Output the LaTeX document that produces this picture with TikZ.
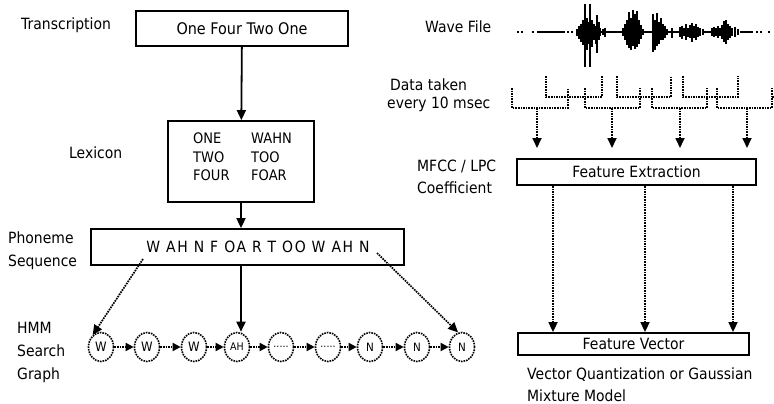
\documentclass[tikz,border=0pt]{standalone}
\usepackage{fontspec}
\setmainfont{DejaVu Sans}[FakeStretch=0.9]
\usetikzlibrary{arrows.meta,shapes.geometric}
\begin{document}
\begin{tikzpicture}[x=1pt,y=-1pt,
  lbl/.style={anchor=west,inner sep=0pt,font=\fontsize{15.5}{18}\selectfont},
  box/.style={draw,line width=1.8pt,inner sep=0pt,font=\fontsize{15.5}{18}\selectfont},
  lex/.style={anchor=west,inner sep=0pt,font=\fontsize{14.5}{16}\selectfont},
  solidarr/.style={line width=1.8pt,-{Triangle[length=10pt,width=9pt]}},
  dotarr/.style={line width=1.7pt,dash pattern=on 1.6pt off 1.0pt,-{Triangle[length=10pt,width=9pt]}},
  chainarr/.style={line width=1.7pt,dash pattern=on 1.6pt off 1.0pt,-{Triangle[length=8pt,width=8pt]}},
  dotline/.style={line width=1.7pt,dash pattern=on 1.6pt off 1.0pt},
  st/.style={draw,ellipse,line width=1.6pt,dash pattern=on 1.6pt off 1.0pt,minimum width=25pt,minimum height=29pt,inner sep=0pt,font=\fontsize{13}{14}\selectfont},
  wv/.style={line width=1.2pt}
]
\useasboundingbox (0,0) rectangle (774,404);

% ---------------- left column ----------------
\node[lbl] (ltr) at (21,25) {Transcription};
\node[box,minimum width=212pt,minimum height=35pt,font=\fontsize{16}{18}\selectfont] (tr) at (242,28.5) {One Four Two One};

\node[lbl] (llex) at (69,153) {Lexicon};
\node[box,minimum width=146pt,minimum height=81pt] (lx) at (241,161.5) {};
\node[lex] (l1a) at (193,138) {ONE};
\node[lex] (l1b) at (251,138) {WAHN};
\node[lex] (l2a) at (193,157) {TWO};
\node[lex] (l2b) at (251,157) {TOO};
\node[lex] (l3a) at (193,175.5) {FOUR};
\node[lex] (l3b) at (251,175.5) {FOAR};

\node[lbl] (lph1) at (8,238) {Phoneme};
\node[lbl] (lph2) at (8,262) {Sequence};
\node[box,minimum width=313pt,minimum height=36pt] (ph) at (247.5,247) {};
\node[inner sep=0pt,font=\fontsize{15.5}{18}\selectfont\addfontfeature{LetterSpace=10}] (pht) at (258,247) {W AH N F OA R T OO W AH N};

\node[lbl] (lh1) at (17,328) {HMM};
\node[lbl] (lh2) at (17,351) {Search};
\node[lbl] (lh3) at (17,375) {Graph};

\node[st] (c1) at (101,347) {W};
\node[st] (c2) at (147,347) {W};
\node[st] (c3) at (194,347) {W};
\node[st,font=\fontsize{10.5}{10}\selectfont] (c4) at (237,347) {AH};
\node[st,font=\fontsize{10.5}{10}\selectfont] (c5) at (281,347) {.....};
\node[st,font=\fontsize{10.5}{10}\selectfont] (c6) at (328,347) {.....};
\node[st,font=\fontsize{11.5}{10}\selectfont] (c7) at (370,347) {N};
\node[st,font=\fontsize{11.5}{10}\selectfont] (c8) at (417,347) {N};
\node[st,font=\fontsize{11.5}{10}\selectfont] (c9) at (462,347) {N};

\foreach \a/\b in {c1/c2,c2/c3,c3/c4,c4/c5,c5/c6,c6/c7,c7/c8,c8/c9}
  \draw[chainarr] (\a) -- (\b);

\draw[solidarr] (tr) -- (lx);
\draw[solidarr] (lx.south) -- (lx.south |- ph.north);
\coordinate (pv) at (241,0);
\draw[solidarr] (ph.south -| pv) -- (c4.north -| pv);

\coordinate (p1) at (143,259);
\coordinate (p2) at (377,253);
\draw[dotarr] (p1) -- (c1.125);
\draw[dotarr] (p2) -- (c9.105);

% ---------------- right column ----------------
\node[lbl] (lwave) at (425,27) {Wave File};
\node[lbl] (ld1) at (390,85) {Data taken};
\node[lbl] (ld2) at (387,104) {every 10 msec};
\node[lbl] (lm1) at (417,166) {MFCC / LPC};
\node[lbl] (lm2) at (417,188) {Coefficient};
\node[lbl] (lvq1) at (527,375) {Vector Quantization or Gaussian};
\node[lbl] (lvq2) at (527,396) {Mixture Model};

% waveform
\draw[line width=1.2pt] (537,32) -- (565,32) (600,32) -- (623,32) (642,32) -- (653,32)
  (667,32) -- (680,32) (703,32) -- (712,32) (740,32) -- (753,32);
\foreach \x in {518,521.5,533,568,572,757,761,769}
  \draw[line width=1.2pt] (\x-1,32) -- (\x+1,32);
\foreach \x/\a/\b in {
  577/29/36,579/26/39,581/24/42,583/20/45,587/18/50,589/22/44,592/20/47,594/24/40,596/26/44,597/15/53,599/22/40,600/28/36,
  603/29/35,605/28/37,
  623/28/36,625/24/40,627/20/45,629/12/48,631/18/50,633/10/46,635/14/49,637/11/47,639/20/44,641/25/39,643/29/35,
  653/14/52,655/20/50,657/13/46,659/22/44,661/18/40,663/24/40,665/26/38,667/29/35,672/28/38,
  680/27/37,682/26/39,684/28/36,686/24/40,688/28/37,690/25/38,692/23/42,694/26/38,696/24/40,698/27/37,700/28/36,703/29/35,
  712/28/36,714/27/37,716/28/36,718/26/38,720/28/36,722/25/39,724/21/42,726/20/44,728/24/40,730/26/38,732/28/36,735/27/37,738/29/35}
  \draw[wv] (\x,\a) -- (\x,\b);
\draw[line width=1.6pt] (585,4) -- (585,67) (590,4) -- (590,67);

% brackets
\foreach \l/\r in {512/568,585/640,652/707,717/772}
  \draw[dotline] (\l,88) -- (\l,108) -- (\r,108) -- (\r,88);
\foreach \l/\r in {546/602,617/671,683/738}
  \draw[dotline] (\l,76) -- (\l,97) -- (\r,97) -- (\r,76);
\draw[dotline] (772,97) -- (774,97);

\node[box,minimum width=239pt,minimum height=26pt] (fe) at (636.5,172) {Feature Extraction};
\node[box,minimum width=231pt,minimum height=22pt] (fv) at (633.5,344) {Feature Vector};

\foreach \i/\x in {1/537,2/612,3/680,4/747}{
  \coordinate (k\i) at (\x,108);
  \coordinate (e\i) at (\x,148);
  \draw[dotarr] (k\i) -- (e\i);
}
\foreach \i/\x in {1/553,2/645,3/733}{
  \coordinate (v\i) at (\x,0);
  \draw[dotarr] (fe.south -| v\i) -- (fv.north -| v\i);
}
\end{tikzpicture}
\end{document}
